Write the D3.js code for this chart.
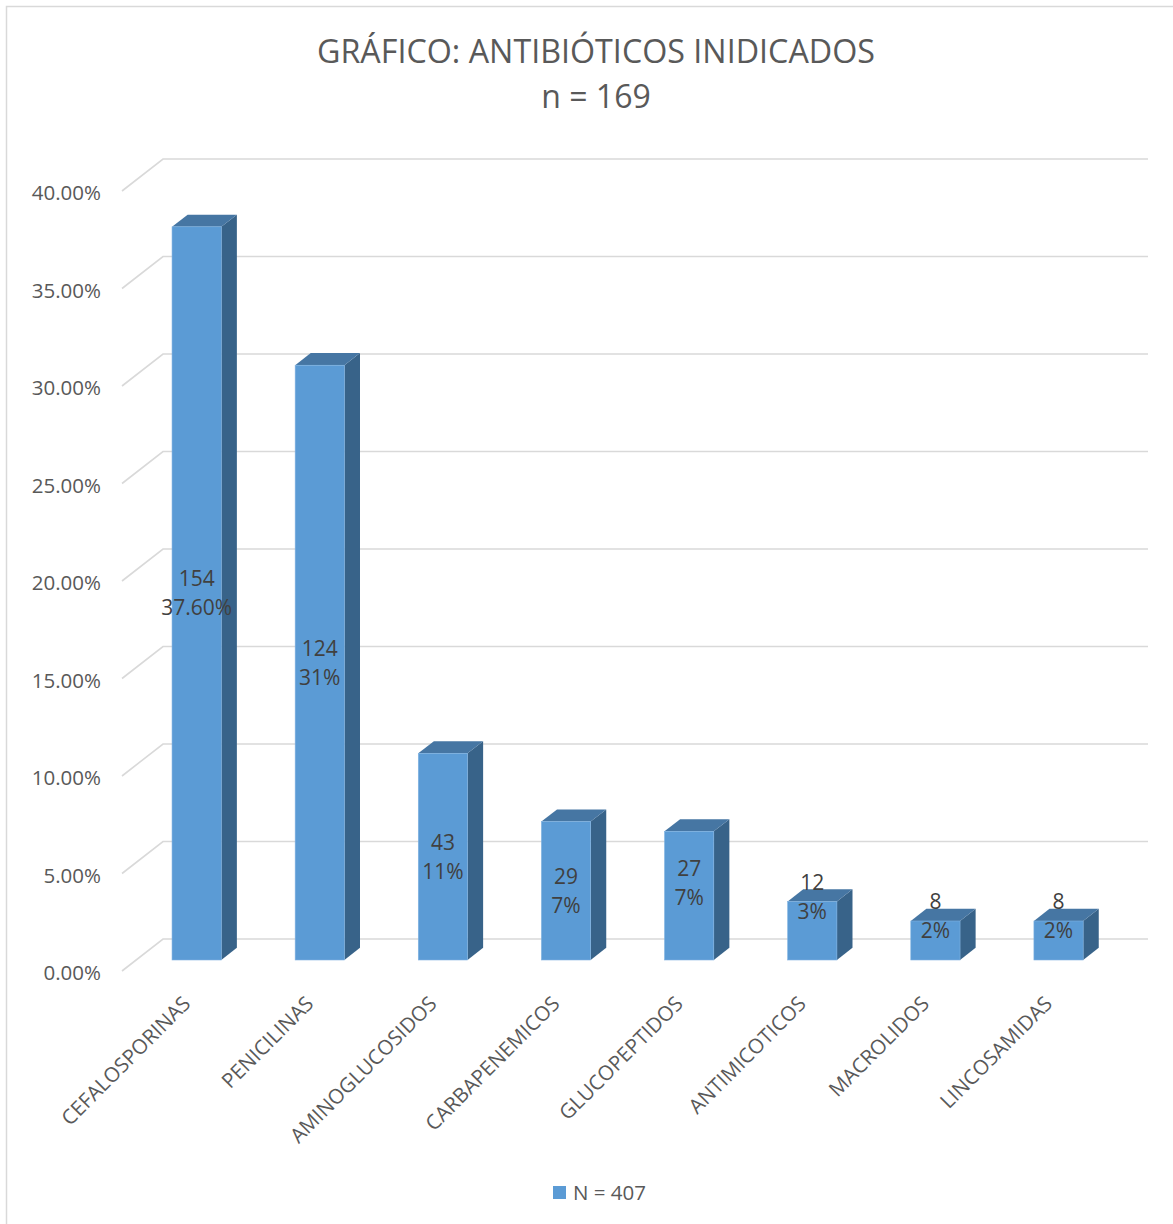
<!DOCTYPE html>
<html>
<head>
<meta charset="utf-8">
<script src="https://cdn.jsdelivr.net/npm/d3@7"></script>
<style>
  html, body { margin: 0; padding: 0; background: #ffffff; }
  svg { display: block; font-family: "Open Sans", "Noto Sans", sans-serif; }
</style>
</head>
<body>
<svg id="chart" width="1173" height="1224"></svg>
<script>
// Antibiotic groups prescribed, share of total indications (N = 407)
const categories = ["CEFALOSPORINAS", "PENICILINAS", "AMINOGLUCOSIDOS", "CARBAPENEMICOS",
                    "GLUCOPEPTIDOS", "ANTIMICOTICOS", "MACROLIDOS", "LINCOSAMIDAS"];
const counts = [154, 124, 43, 29, 27, 12, 8, 8];
const shares = [0.376, 0.305, 0.106, 0.071, 0.066, 0.030, 0.020, 0.020];
const shareDecimals = [2, 0, 0, 0, 0, 0, 0, 0];
const yTicks = [0, 0.05, 0.10, 0.15, 0.20, 0.25, 0.30, 0.35, 0.40];
const titleLines = ["GRÁFICO: ANTIBIÓTICOS INIDICADOS", "n = 169"];
const seriesName = "N = 407";

const svg = d3.select("#chart");
const W = 1173, H = 1224;

// Outer chart frame
svg.append("rect")
  .attr("x", 6.5).attr("y", 6.5)
  .attr("width", W + 10).attr("height", H + 10)
  .attr("fill", "#ffffff").attr("stroke", "#d9d9d9").attr("stroke-width", 1.5);

// Oblique projection: depth vector from the front edge of the floor to the back wall
const depth = { dx: 41, dy: -32 };
const barZ0 = 0.344;   // bar front face position along depth
const barZ = 0.38;     // bar thickness along depth

// Scales on the front plane (z = 0)
const x = d3.scaleBand().domain(categories).range([121, 1106])
  .paddingInner(0.6).paddingOuter(0.3);
const y = d3.scaleLinear().domain([0, 0.40]).range([971, 191]);

// Gridlines: diagonal on the side wall plus horizontal on the back wall
const grid = svg.append("g").attr("stroke", "#d9d9d9").attr("stroke-width", 1.6).attr("fill", "none");
yTicks.forEach(v => {
  const xf = 122, yf = y(v);
  const xb = xf + depth.dx, yb = yf + depth.dy;
  grid.append("path")
    .attr("d", `M${xf},${yf}L${xb},${yb}L${1148},${yb}`);
});

// Y axis labels at the front edge
const yAxis = d3.axisLeft(y).tickValues(yTicks).tickSize(0).tickPadding(0)
  .tickFormat(d3.format(".2%"));
const yg = svg.append("g").attr("transform", "translate(101,2)").call(yAxis);
yg.select(".domain").remove();
yg.selectAll("text")
  .attr("fill", "#595959").style("font-size", "20.5px")
  .style("font-family", "'Open Sans', sans-serif");

// 3D columns
const colFront = "#5b9bd5", colTop = "#4676a3", colSide = "#386389";
const bw = x.bandwidth();
const dz0x = barZ0 * depth.dx, dz0y = barZ0 * depth.dy;
const ddx = barZ * depth.dx, ddy = barZ * depth.dy;

const bars = svg.append("g");
categories.forEach((c, i) => {
  const x0 = x(c) + dz0x, x1 = x0 + bw;
  const yb = y(0) + dz0y, yt = y(shares[i]) + dz0y;
  const g = bars.append("g");
  g.append("path")
    .attr("d", `M${x1},${yt}L${x1 + ddx},${yt + ddy}L${x1 + ddx},${yb + ddy}L${x1},${yb}Z`)
    .attr("fill", colSide);
  g.append("path")
    .attr("d", `M${x0},${yt}L${x1},${yt}L${x1 + ddx},${yt + ddy}L${x0 + ddx},${yt + ddy}Z`)
    .attr("fill", colTop);
  g.append("rect")
    .attr("x", x0).attr("y", yt).attr("width", bw).attr("height", yb - yt)
    .attr("fill", colFront).attr("stroke", "#7fb1e0").attr("stroke-width", 0.6);
});

// Data labels: count and share, centred on the column face
const labels = svg.append("g").attr("fill", "#404040")
  .style("font-size", "21px").attr("text-anchor", "middle");
categories.forEach((c, i) => {
  const cx = x(c) + dz0x + bw / 2;
  const yb = y(0) + dz0y, yt = y(shares[i]) + dz0y;
  const h = yb - yt;
  const mid = h > 130 ? (yb + yt) / 2 : (h > 100 ? yt + 52 : yt - 5);
  const pct = d3.format(`.${shareDecimals[i]}%`)(shares[i]);
  labels.append("text").attr("x", cx).attr("y", mid - 14.5).attr("dy", "0.36em").text(counts[i]);
  labels.append("text").attr("x", cx).attr("y", mid + 14.5).attr("dy", "0.36em").text(pct);
});

// Category labels, rotated
const xl = svg.append("g").attr("fill", "#595959").style("font-size", "20.5px");
categories.forEach(c => {
  const cx = x(c) + dz0x + bw / 2;
  xl.append("text")
    .attr("transform", `translate(${cx - 5},${1005}) rotate(-45)`)
    .attr("text-anchor", "end")
    .text(c);
});

// Title
const title = svg.append("g").attr("fill", "#595959").attr("text-anchor", "middle");
title.append("text").attr("x", 596).attr("y", 63).style("font-size", "32px")
  .attr("textLength", 558).attr("lengthAdjust", "spacingAndGlyphs").text(titleLines[0]);
title.append("text").attr("x", 596).attr("y", 108).style("font-size", "32px").text(titleLines[1]);

// Legend
const lg = svg.append("g");
lg.append("rect").attr("x", 553).attr("y", 1186).attr("width", 13).attr("height", 13).attr("fill", colFront);
lg.append("text").attr("x", 573).attr("y", 1193).attr("dy", "0.36em")
  .attr("fill", "#595959").style("font-size", "20.5px").text(seriesName);
</script>
</body>
</html>
